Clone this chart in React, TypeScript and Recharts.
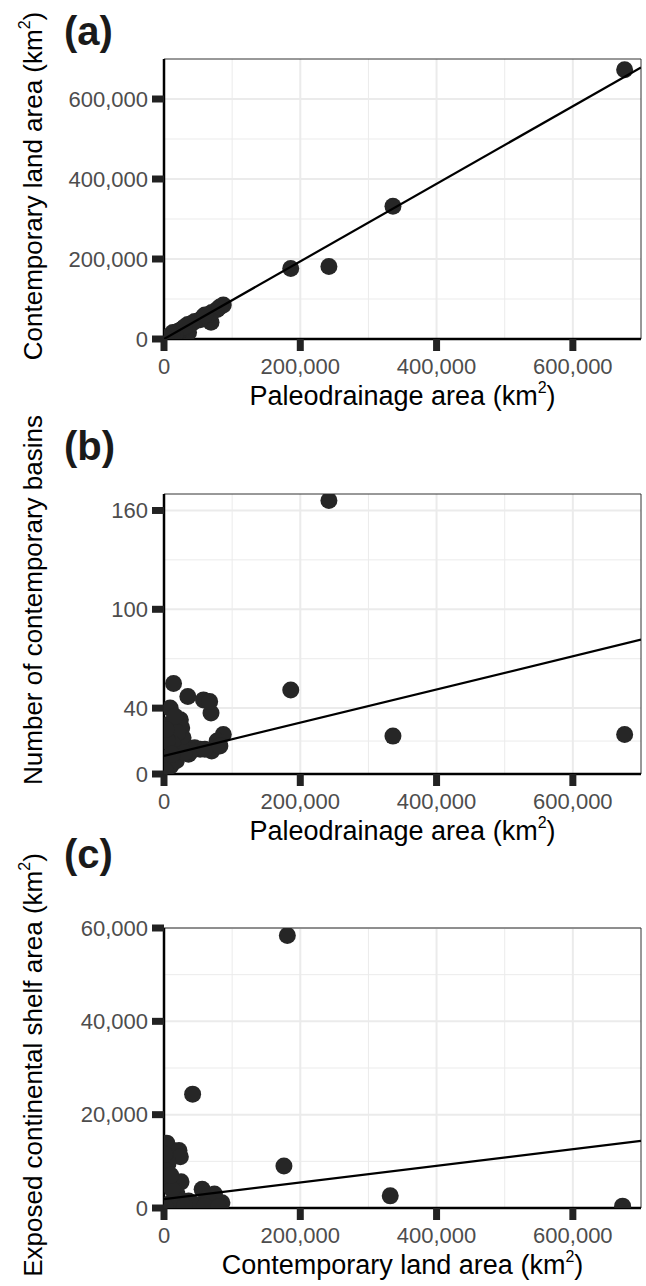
import React from 'react';
import { ScatterChart, Scatter, XAxis, YAxis, CartesianGrid, ReferenceLine } from 'recharts';

// one entry per basin
const paleoArea = [
  676000, 336000, 186000, 242000, 87000, 69000, 78000, 58000, 67000, 53000,
  14000, 35000, 36000, 9000, 70000, 24000, 26000, 7000, 28000, 20000,
  13000, 4000, 10000, 18000, 2000, 45000, 40000, 30000, 5000, 16000,
  12000, 60000, 82000, 3000,
];
const landArea = [
  673000, 332000, 176000, 181000, 85000, 42000, 74000, 56000, 62000, 48000,
  13000, 36000, 16000, 4000, 66000, 22000, 24000, 6000, 25000, 19000,
  16000, 5000, 9000, 15000, 2000, 44000, 38000, 30000, 3000, 12000,
  10000, 60000, 80000, 1000,
];
const basinCount = [
  24, 23, 51, 166, 24, 37, 20, 45, 44, 15,
  55, 47, 12, 40, 14, 33, 28, 30, 22, 25,
  18, 10, 5, 8, 2, 16, 14, 13, 20, 35,
  12, 15, 17, 27,
];
const shelfArea = [
  400, 2600, 9000, 58400, 1100, 24400, 3000, 4000, 2000, 600,
  12300, 1500, 800, 13900, 1500, 12300, 11000, 9600, 5600, 3000,
  2000, 6000, 1000, 500, 200, 800, 1200, 300, 8000, 4000,
  7000, 400, 200, 11500,
];

// fitted lines, end points at the panel edges
const fitA = [{ x: 0, y: 0 }, { x: 700000, y: 679000 }];
const fitB = [{ x: 0, y: 11 }, { x: 700000, y: 81.6 }];
const fitC = [{ x: 0, y: 1900 }, { x: 700000, y: 14400 }];

const xTicks = [0, 200000, 400000, 600000];
const xMinor = [100000, 300000, 500000];
const landTicks = [0, 200000, 400000, 600000];
const landMinor = [100000, 300000, 500000];
const basinTicks = [0, 40, 100, 160];
const basinMinor = [20, 70, 130];
const shelfTicks = [0, 20000, 40000, 60000];
const shelfMinor = [10000, 30000, 50000];

const FONT = '"Liberation Sans", Arial, Helvetica, sans-serif';
const fmt = (v: number) => v.toLocaleString('en-US');

const Dot = (p: any) => <circle cx={p.cx} cy={p.cy} r={8.5} fill="#262626" />;
const NoDot = () => <g />;

const km2 = (base: string) => (
  <>
    {base} (km<tspan dy={-12} fontSize={16}>2</tspan><tspan dy={12}>)</tspan>
  </>
);

interface PanelProps {
  top: number;
  xs: number[];
  ys: number[];
  fit: { x: number; y: number }[];
  yTicks: number[];
  yMinor: number[];
  yMax: number;
  xTitle: React.ReactNode;
}

const Panel = ({ top, xs, ys, fit, yTicks, yMinor, yMax, xTitle }: PanelProps) => {
  const points = xs.map((x, i) => ({ x, y: ys[i] }));
  return (
    <div style={{ position: 'absolute', left: 0, top }}>
      <ScatterChart width={646} height={417} margin={{ top: 59, right: 5, bottom: 0, left: 0 }}>
        <CartesianGrid verticalValues={xMinor} horizontalValues={yMinor} stroke="#ebebeb" strokeWidth={1} />
        <CartesianGrid verticalValues={xTicks} horizontalValues={yTicks} stroke="#ebebeb" strokeWidth={2} />
        <ReferenceLine y={yMax} stroke="#333" strokeWidth={1} />
        <ReferenceLine x={700000} stroke="#333" strokeWidth={1} />
        <XAxis
          type="number"
          dataKey="x"
          domain={[0, 700000]}
          ticks={xTicks}
          allowDataOverflow
          tickFormatter={fmt}
          height={78}
          tickSize={12}
          tickMargin={7}
          tickLine={{ stroke: '#222', strokeWidth: 7 }}
          axisLine={{ stroke: '#000', strokeWidth: 2.5 }}
          tick={{ fill: '#4d4d4d', fontSize: 22, fontFamily: FONT }}
          label={(props: any) => {
            const vb = props.viewBox;
            return (
              <text x={vb.x + vb.width / 2} y={vb.y + 66} textAnchor="middle" fontSize={27} fontFamily={FONT} fill="#000">
                {xTitle}
              </text>
            );
          }}
        />
        <YAxis
          type="number"
          dataKey="y"
          domain={[0, yMax]}
          ticks={yTicks}
          allowDataOverflow
          tickFormatter={fmt}
          width={164}
          tickSize={12}
          tickMargin={4}
          tickLine={{ stroke: '#222', strokeWidth: 7 }}
          axisLine={{ stroke: '#000', strokeWidth: 2.5 }}
          tick={{ fill: '#4d4d4d', fontSize: 22, fontFamily: FONT }}
        />
        <Scatter data={points} shape={Dot} isAnimationActive={false} />
        <Scatter data={fit} shape={NoDot} line={{ stroke: '#000', strokeWidth: 2.2 }} lineType="joint" isAnimationActive={false} />
      </ScatterChart>
    </div>
  );
};

const YTitle = ({ cy, children }: { cy: number; children: React.ReactNode }) => (
  <text x={42} y={cy} transform={`rotate(-90 42 ${cy})`} textAnchor="middle" fontSize={26} fontFamily={FONT} fill="#000">
    {children}
  </text>
);

const Tag = ({ y, children }: { y: number; children: React.ReactNode }) => (
  <text x={64} y={y} fontSize={40} fontWeight={700} fontFamily={FONT} fill="#1a1a1a">
    {children}
  </text>
);

export default function App() {
  return (
    <div style={{ position: 'absolute', left: 0, top: 0, width: 646, height: 1286, background: '#fff', overflow: 'hidden' }}>
      <Panel
        top={0}
        xs={paleoArea}
        ys={landArea}
        fit={fitA}
        yTicks={landTicks}
        yMinor={landMinor}
        yMax={700000}
        xTitle={km2('Paleodrainage area')}
      />
      <Panel
        top={435}
        xs={paleoArea}
        ys={basinCount}
        fit={fitB}
        yTicks={basinTicks}
        yMinor={basinMinor}
        yMax={170}
        xTitle={km2('Paleodrainage area')}
      />
      <Panel
        top={869}
        xs={landArea}
        ys={shelfArea}
        fit={fitC}
        yTicks={shelfTicks}
        yMinor={shelfMinor}
        yMax={60000}
        xTitle={km2('Contemporary land area')}
      />
      <svg width={646} height={1286} style={{ position: 'absolute', left: 0, top: 0, pointerEvents: 'none' }}>
        <YTitle cy={186}>{km2('Contemporary land area')}</YTitle>
        <YTitle cy={600}>Number of contemporary basins</YTitle>
        <YTitle cy={1065}>{km2('Exposed continental shelf area')}</YTitle>
        <Tag y={45}>(a)</Tag>
        <Tag y={460}>(b)</Tag>
        <Tag y={868}>(c)</Tag>
      </svg>
    </div>
  );
}
